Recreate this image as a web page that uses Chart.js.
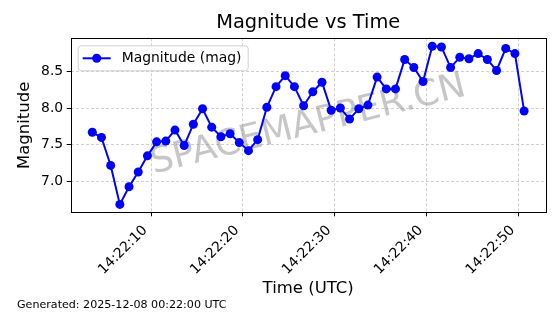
<!DOCTYPE html>
<html>
<head>
<meta charset="utf-8">
<script src="https://cdn.jsdelivr.net/npm/chart.js@4/dist/chart.umd.min.js"></script>
<style>
html,body{margin:0;padding:0;background:#fff;}
#wrap{position:relative;width:560px;height:314px;}
</style>
</head>
<body>
<div id="wrap"><canvas id="c" width="560" height="314"></canvas></div>
<script>
const timeLabels = ["14:22:03.6","14:22:04.6","14:22:05.6","14:22:06.6","14:22:07.6","14:22:08.6","14:22:09.6","14:22:10.6",
  "14:22:11.6","14:22:12.6","14:22:13.6","14:22:14.6","14:22:15.6","14:22:16.6","14:22:17.6","14:22:18.6",
  "14:22:19.6","14:22:20.6","14:22:21.6","14:22:22.6","14:22:23.6","14:22:24.6","14:22:25.6","14:22:26.6",
  "14:22:27.6","14:22:28.6","14:22:29.6","14:22:30.6","14:22:31.6","14:22:32.6","14:22:33.6","14:22:34.6",
  "14:22:35.6","14:22:36.6","14:22:37.6","14:22:38.6","14:22:39.6","14:22:40.6","14:22:41.6","14:22:42.6",
  "14:22:43.6","14:22:44.6","14:22:45.6","14:22:46.6","14:22:47.6","14:22:48.6","14:22:49.6","14:22:50.6"];
const magnitudes = [7.67,7.60,7.22,6.69,6.93,7.13,7.35,7.54,
  7.55,7.70,7.49,7.78,7.99,7.74,7.61,7.65,
  7.53,7.42,7.57,8.01,8.29,8.44,8.29,8.03,
  8.22,8.35,7.97,8.00,7.85,7.99,8.04,8.42,
  8.26,8.26,8.66,8.55,8.36,8.84,8.83,8.55,
  8.69,8.67,8.74,8.66,8.51,8.81,8.74,7.96];
const xTickLabels = ["14:22:10","14:22:20","14:22:30","14:22:40","14:22:50"];
const yTickValues = [7.0, 7.5, 8.0, 8.5];
const seriesName = "Magnitude (mag)";
const titleText = "Magnitude vs Time";
const xTitle = "Time (UTC)";
const yTitle = "Magnitude";
const footerText = "Generated: 2025-12-08 00:22:00 UTC";
const watermark = "SPACEMAPPER.CN";

function toSec(s){ const p = s.split(":"); return (+p[0])*3600 + (+p[1])*60 + (+p[2]); }
const base = toSec(xTickLabels[0]) - 10;
const xs = timeLabels.map(t => toSec(t) - base);
const xTicks = xTickLabels.map(t => toSec(t) - base);
const pts = xs.map((x,i)=>({x:x, y:magnitudes[i]}));

function margin(arr){ const mn=Math.min(...arr), mx=Math.max(...arr), d=(mx-mn)*0.05; return [mn-d, mx+d]; }
const [xMin,xMax] = margin(xs);
const [yMin,yMax] = margin(magnitudes);

const FONT = "'DejaVu Sans', sans-serif";
const BLUE = "#0000ff";

const decor = {
  id:'decor',
  beforeDatasetsDraw(chart){
    const {ctx, chartArea:a} = chart;
    ctx.save();
    ctx.beginPath(); ctx.rect(a.left,a.top,a.right-a.left,a.bottom-a.top); ctx.clip();
    ctx.translate((a.left+a.right)/2, (a.top+a.bottom)/2);
    ctx.rotate(-14*Math.PI/180);
    ctx.font = "36px " + FONT;
    ctx.fillStyle = "rgba(128,128,128,0.45)";
    ctx.textAlign = "center"; ctx.textBaseline = "middle";
    ctx.fillText(watermark, 0, 0);
    ctx.restore();
  },
  afterDraw(chart){
    const {ctx, chartArea:a} = chart;
    ctx.save();
    ctx.strokeStyle = "#000"; ctx.lineWidth = 1;
    ctx.strokeRect(Math.round(a.left)+0.5, Math.round(a.top)+0.5, Math.round(a.right-a.left), Math.round(a.bottom-a.top));
    ctx.fillStyle = "#000";
    ctx.font = "19.4px " + FONT;
    ctx.textAlign = "center"; ctx.textBaseline = "middle";
    ctx.fillText(titleText, (a.left+a.right)/2, 23);
    const lx = a.left + 7, ly = a.top + 7, lw = 170, lh = 25;
    ctx.beginPath();
    if (ctx.roundRect) ctx.roundRect(lx+0.5, ly+0.5, lw, lh, 3); else ctx.rect(lx+0.5, ly+0.5, lw, lh);
    ctx.fillStyle = "rgba(255,255,255,0.8)"; ctx.fill();
    ctx.strokeStyle = "#d0d0d0"; ctx.lineWidth = 1; ctx.stroke();
    const cy = ly + lh/2 + 0.5;
    ctx.strokeStyle = BLUE; ctx.lineWidth = 2;
    ctx.beginPath(); ctx.moveTo(lx+5, cy); ctx.lineTo(lx+33, cy); ctx.stroke();
    ctx.fillStyle = BLUE;
    ctx.beginPath(); ctx.arc(lx+19, cy, 4.5, 0, Math.PI*2); ctx.fill();
    ctx.fillStyle = "#000"; ctx.font = "13.9px " + FONT;
    ctx.textAlign = "left"; ctx.textBaseline = "middle";
    ctx.fillText(seriesName, lx+44, cy);
    ctx.font = "11.1px " + FONT;
    ctx.textAlign = "left"; ctx.textBaseline = "middle";
    ctx.fillText(footerText, 17, 305);
    ctx.restore();
  }
};

new Chart(document.getElementById('c'), {
  type:'line',
  data:{ datasets:[{
    label: seriesName, data: pts,
    borderColor: BLUE, backgroundColor: BLUE, borderWidth: 2,
    pointRadius: 4.5, pointHoverRadius: 4.5, pointBorderWidth: 0,
    pointBackgroundColor: BLUE, tension: 0, fill: false
  }]},
  options:{
    responsive:false, animation:false, devicePixelRatio:1,
    layout:{ padding:{ left:0, right:14.3, top:38.3, bottom:0 } },
    plugins:{ legend:{display:false}, tooltip:{enabled:false}, title:{display:false} },
    scales:{
      x:{ type:'linear', min:xMin, max:xMax,
        afterBuildTicks(s){ s.ticks = xTicks.map(v=>({value:v})); },
        afterFit(s){ s.height = 101.7; },
        ticks:{ autoSkip:false, minRotation:45, maxRotation:45, padding:6, labelOffset:-6, color:"#000",
          font:{family:FONT, size:13.9},
          callback:(v)=>{ const i = xTicks.indexOf(v); return i>=0 ? xTickLabels[i] : ''; } },
        grid:{ color:"rgba(176,176,176,0.75)", lineWidth:0.8, drawTicks:true, tickLength:4, tickColor:"#000", tickWidth:1, tickBorderDash:[] },
        border:{ display:false, dash:[3,2] },
        title:{ display:true, text:xTitle, color:"#000", font:{family:FONT, size:16.5}, padding:{top:0,bottom:15} }
      },
      y:{ type:'linear', min:yMin, max:yMax,
        afterBuildTicks(s){ s.ticks = yTickValues.map(v=>({value:v})); },
        afterFit(s){ s.width = 70.7; },
        ticks:{ padding:3.5, color:"#000", font:{family:FONT, size:13.9}, callback:(v)=>v.toFixed(1) },
        grid:{ color:"rgba(176,176,176,0.75)", lineWidth:0.8, drawTicks:true, tickLength:4, tickColor:"#000", tickWidth:1, tickBorderDash:[] },
        border:{ display:false, dash:[3,2] },
        title:{ display:true, text:yTitle, color:"#000", font:{family:FONT, size:16.5}, padding:{top:15,bottom:0} }
      }
    }
  },
  plugins:[decor]
});
</script>
</body>
</html>
